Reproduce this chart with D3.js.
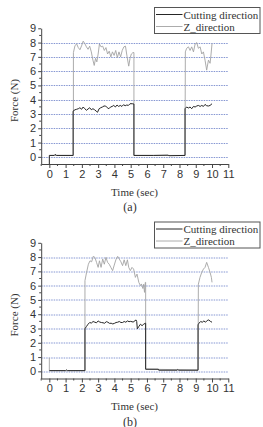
<!DOCTYPE html>
<html>
<head>
<meta charset="utf-8">
<script src="https://cdn.jsdelivr.net/npm/d3@7/dist/d3.min.js"></script>
<style>
html,body{margin:0;padding:0;background:#fff;}
svg{display:block;}
</style>
</head>
<body>
<svg id="chart" width="263" height="427"></svg>
<script>
// ---------- DATA ----------
const seriesNames = ["Cutting direction", "Z_direction"];
const xTicks = [0,1,2,3,4,5,6,7,8,9,10,11];
const yTicks = [0,1,2,3,4,5,6,7,8,9];
const gridValues = [0,1,2,3,4,5,6,7,8];
const panelLabels = ["(a)", "(b)"];

// Panel (a) - cutting direction [time, force]
const cutA = [
 [0,-0.5],[0,0.1],[0.3,0.1],[0.35,0.17],[0.45,0.1],[1.46,0.1],[1.46,3.2],[1.58,3.3],[1.68,3.33],[1.78,3.37],[1.88,3.44],
 [1.98,3.33],[2.08,3.49],[2.18,3.37],[2.28,3.26],[2.38,3.35],[2.48,3.44],[2.58,3.3],[2.68,3.37],[2.78,3.3],
 [2.88,3.2],[2.96,3.12],[3.06,3.37],[3.16,3.44],[3.26,3.49],[3.36,3.56],[3.46,3.56],[3.56,3.44],[3.66,3.37],
 [3.76,3.49],[3.86,3.53],[3.96,3.6],[4.06,3.49],[4.16,3.63],[4.26,3.53],[4.36,3.6],[4.46,3.53],[4.56,3.65],
 [4.66,3.58],[4.76,3.63],[4.86,3.6],[4.96,3.72],[5.1,3.72],[5.2,3.7],[5.2,0.1],[6.4,0.1],[7.3,0.12],[7.35,0.08],
 [8.34,0.1],[8.34,3.37],[8.44,3.49],[8.55,3.42],[8.65,3.49],[8.75,3.37],[8.86,3.53],[8.96,3.49],[9.06,3.56],
 [9.16,3.6],[9.27,3.53],[9.37,3.6],[9.47,3.53],[9.57,3.67],[9.67,3.58],[9.78,3.56],[9.88,3.6],[10.0,3.72]
];
// Panel (a) - Z direction
const zA = [
 [0,0.1],[1.48,0.1],[1.48,7.3],[1.58,7.8],[1.68,7.9],[1.78,7.65],[1.88,7.5],[1.98,7.77],[2.08,8.1],[2.18,7.93],
 [2.28,7.7],[2.38,7.53],[2.48,7.75],[2.58,7.35],[2.68,6.77],[2.76,6.4],[2.84,6.9],[2.92,6.65],[3.0,7.2],
 [3.08,7.9],[3.18,7.7],[3.28,7.75],[3.38,7.45],[3.48,7.65],[3.58,7.2],[3.68,7.4],[3.78,7.0],[3.88,7.35],
 [3.98,7.1],[4.08,7.45],[4.18,6.95],[4.28,7.35],[4.38,7.0],[4.48,7.45],[4.58,7.7],[4.68,7.75],[4.78,7.0],
 [4.88,6.35],[4.96,6.9],[5.04,7.2],[5.14,7.3],[5.2,7.3],[5.2,0.1],[8.34,0.1],[8.36,7.35],[8.44,7.6],[8.55,7.7],
 [8.65,7.45],[8.75,7.7],[8.86,7.35],[8.96,7.9],[9.06,8.0],[9.16,7.6],[9.27,7.7],[9.37,7.2],[9.47,7.35],
 [9.57,6.77],[9.67,6.07],[9.78,6.77],[9.88,6.55],[9.94,7.2],[10.0,7.93]
];
// Panel (b) - cutting direction
const cutB = [
 [0,0.05],[1.0,0.05],[1.05,0.1],[1.12,0.05],[2.19,0.05],[2.19,2.98],[2.28,3.14],[2.38,3.3],[2.48,3.42],[2.58,3.38],
 [2.69,3.49],[2.8,3.44],[2.9,3.4],[3.0,3.53],[3.1,3.45],[3.2,3.42],[3.3,3.4],[3.4,3.37],[3.5,3.48],[3.6,3.44],
 [3.7,3.36],[3.8,3.37],[3.9,3.32],[4.0,3.36],[4.1,3.42],[4.2,3.44],[4.3,3.49],[4.4,3.42],[4.5,3.42],[4.6,3.49],
 [4.7,3.44],[4.8,3.53],[4.9,3.48],[5.0,3.5],[5.15,3.45],[5.33,3.6],[5.37,3.49],[5.41,2.98],[5.5,3.14],[5.6,3.3],
 [5.7,3.2],[5.8,3.3],[5.9,3.37],[5.92,3.37],[5.92,0.15],[6.7,0.15],[6.72,0.08],[7.85,0.08],[7.9,0.13],[7.95,0.08],
 [9.14,0.08],[9.14,3.26],[9.2,3.37],[9.3,3.49],[9.4,3.44],[9.5,3.53],[9.6,3.44],[9.7,3.56],[9.8,3.6],[9.9,3.5],[10.0,3.44]
];
// Panel (b) - Z direction
const zB = [
 [0,0.95],[0,0.05],[2.19,0.05],[2.19,6.35],[2.29,6.93],[2.4,7.5],[2.5,7.74],[2.6,7.67],[2.7,8.05],[2.8,7.98],
 [2.9,7.63],[3.0,7.28],[3.08,7.74],[3.18,7.28],[3.28,7.86],[3.38,7.5],[3.48,7.98],[3.58,7.63],[3.68,7.5],
 [3.78,7.28],[3.89,7.05],[3.99,7.44],[4.09,7.81],[4.2,8.05],[4.3,7.86],[4.4,7.67],[4.5,7.4],[4.6,7.81],
 [4.7,7.4],[4.8,7.81],[4.88,7.28],[4.98,7.05],[5.08,7.28],[5.18,7.16],[5.29,6.58],[5.39,6.81],[5.5,6.23],
 [5.6,6.0],[5.66,6.12],[5.75,5.8],[5.8,6.1],[5.85,5.53],[5.9,6.23],[5.92,6.23],[5.92,0.15],[9.14,0.1],[9.16,6.1],
 [9.26,6.58],[9.37,6.93],[9.47,7.16],[9.57,7.28],[9.67,7.63],[9.78,7.28],[9.88,6.93],[9.96,6.58],[10.0,6.23]
];

// ---------- DRAW ----------
const svg = d3.select("#chart");
const colors = ["#262626", "#a3a3a3"];
const sans = "'Liberation Sans', Arial, sans-serif";
const serif = "'Liberation Serif', 'Times New Roman', serif";

function drawPanel(top, cut, z, label) {
  const g = svg.append("g").attr("transform", `translate(0,${top})`);
  const x = d3.scaleLinear().domain([-0.5, 11]).range([41.2, 228.3]);
  const y = d3.scaleLinear().domain([-0.5, 9]).range([164, 28.3]);

  // grid
  g.append("g").selectAll("line").data(gridValues).join("line")
    .attr("x1", x(-0.5)).attr("x2", x(11))
    .attr("y1", d => Math.round(y(d)) + 0.5).attr("y2", d => Math.round(y(d)) + 0.5)
    .attr("stroke", "#8596d2").attr("stroke-width", 1).attr("stroke-dasharray", "1.5,1");

  // lines
  const line = d3.line().x(d => x(d[0])).y(d => y(d[1]));
  g.append("path").datum(z).attr("d", line).attr("fill", "none")
    .attr("stroke", colors[1]).attr("stroke-width", 0.9);
  g.append("path").datum(cut).attr("d", line).attr("fill", "none")
    .attr("stroke", colors[0]).attr("stroke-width", 1);

  // axes
  const xAxis = d3.axisBottom(x).tickValues(xTicks).tickSize(4).tickPadding(2).tickSizeOuter(0);
  const xa = g.append("g").attr("transform", `translate(0,${y(-0.5)})`).call(xAxis);
  const yAxis = d3.axisLeft(y).tickValues(yTicks).tickSize(3).tickPadding(2).tickSizeOuter(0);
  const ya = g.append("g").attr("transform", `translate(${x(-0.5)},0)`).call(yAxis);
  [xa, ya].forEach(a => {
    a.select(".domain").attr("stroke", "#444");
    a.selectAll(".tick line").attr("stroke", "#444");
    a.selectAll("text").attr("font-family", sans)
      .attr("font-size", 11).attr("fill", "#333");
  });
  // minor ticks
  const minorX = d3.range(-0.5, 11.01, 0.5).filter(v => !Number.isInteger(v));
  g.append("g").selectAll("line").data(minorX).join("line")
    .attr("x1", d => x(d)).attr("x2", d => x(d))
    .attr("y1", y(-0.5)).attr("y2", y(-0.5) + 2).attr("stroke", "#444");
  const minorY = d3.range(-0.5, 9, 0.5).filter(v => !Number.isInteger(v) && v > -0.5);
  g.append("g").selectAll("line").data(minorY).join("line")
    .attr("y1", d => y(d)).attr("y2", d => y(d))
    .attr("x1", x(-0.5)).attr("x2", x(-0.5) - 2).attr("stroke", "#444");

  // titles
  g.append("text").attr("transform", "translate(18,100.5) rotate(-90)")
    .attr("text-anchor", "middle").attr("font-family", serif).attr("font-size", 11)
    .attr("fill", "#333").text("Force (N)");
  g.append("text").attr("x", 134.5).attr("y", 195.5).attr("text-anchor", "middle")
    .attr("font-family", serif).attr("font-size", 11).attr("fill", "#333").text("Time (sec)");
  g.append("text").attr("x", 130).attr("y", 211).attr("text-anchor", "middle")
    .attr("font-family", serif).attr("font-size", 12).attr("fill", "#333").text(label);

  // legend
  const lg = g.append("g");
  lg.append("rect").attr("x", 154.5).attr("y", 7.5).attr("width", 105.5).attr("height", 26)
    .attr("fill", "#fff").attr("stroke", "#555").attr("stroke-width", 1);
  seriesNames.forEach((n, i) => {
    const ly = 14.5 + i * 12;
    lg.append("line").attr("x1", 156).attr("x2", 182.5).attr("y1", ly).attr("y2", ly)
      .attr("stroke", colors[i]).attr("stroke-width", i === 0 ? 1 : 0.9);
    lg.append("text").attr("x", 183.5).attr("y", ly + 4).attr("font-family", serif)
      .attr("font-size", 11).attr("fill", "#333").text(n);
  });
}

drawPanel(0, cutA, zA, panelLabels[0]);
drawPanel(214.5, cutB, zB, panelLabels[1]);
</script>
</body>
</html>
